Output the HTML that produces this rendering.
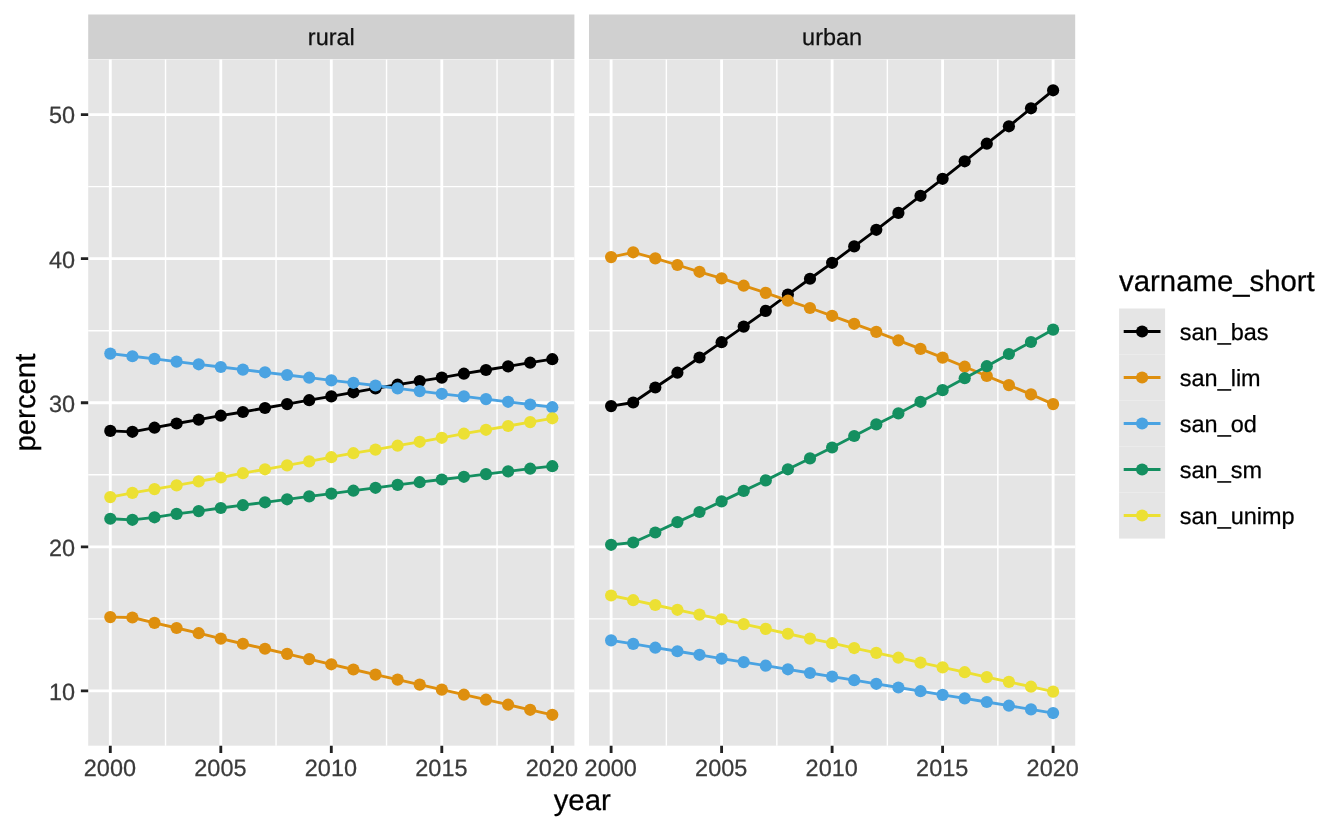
<!DOCTYPE html>
<html lang="en"><head><meta charset="utf-8"><title>sanitation by residence</title>
<style>html,body{margin:0;padding:0;background:#fff}body{width:1344px;height:830px;overflow:hidden}svg{display:block}text{stroke-width:0.25px;text-rendering:geometricPrecision;font-family:"Liberation Sans",Arial,Helvetica,sans-serif}</style></head><body>
<svg width="1344" height="830" viewBox="0 0 1344 830">
<rect x="0" y="0" width="1344" height="830" fill="#ffffff"/>
<g id="rural">
<rect x="88.2" y="14.5" width="486.20" height="44.50" fill="#D0D0D0"/>
<rect x="88.2" y="59.4" width="486.20" height="686.30" fill="#E5E5E5"/>
<path d="M88.2 618.86H574.4M88.2 474.77H574.4M88.2 330.68H574.4M88.2 186.59H574.4M165.55 59.4V745.7M276.05 59.4V745.7M386.55 59.4V745.7M497.05 59.4V745.7" stroke="#fff" stroke-width="1.42" fill="none"/>
<path d="M88.2 690.90H574.4M88.2 546.81H574.4M88.2 402.73H574.4M88.2 258.64H574.4M88.2 114.55H574.4M110.30 59.4V745.7M220.80 59.4V745.7M331.30 59.4V745.7M441.80 59.4V745.7M552.30 59.4V745.7" stroke="#fff" stroke-width="2.84" fill="none"/>
<polyline points="110.30,430.90 132.40,431.80 154.50,427.70 176.60,423.50 198.70,419.60 220.80,415.70 242.90,412.00 265.00,408.00 287.10,404.10 309.20,400.20 331.30,396.40 353.40,392.30 375.50,388.40 397.60,384.70 419.70,381.10 441.80,377.60 463.90,373.70 486.00,370.00 508.10,366.40 530.20,362.70 552.30,359.20" fill="none" stroke="#000000" stroke-width="2.84" stroke-linejoin="round" stroke-linecap="butt"/>
<polyline points="110.30,617.10 132.40,617.50 154.50,622.90 176.60,628.00 198.70,633.20 220.80,638.60 242.90,643.75 265.00,648.75 287.10,653.90 309.20,659.10 331.30,664.30 353.40,669.50 375.50,674.60 397.60,679.60 419.70,684.60 441.80,689.60 463.90,694.70 486.00,699.70 508.10,704.70 530.20,709.80 552.30,714.80" fill="none" stroke="#DE8F0E" stroke-width="2.84" stroke-linejoin="round" stroke-linecap="butt"/>
<polyline points="110.30,353.60 132.40,356.25 154.50,358.90 176.60,361.60 198.70,364.30 220.80,367.00 242.90,369.60 265.00,372.30 287.10,375.00 309.20,377.70 331.30,380.35 353.40,382.80 375.50,385.50 397.60,388.40 419.70,391.10 441.80,393.80 463.90,396.40 486.00,399.10 508.10,401.80 530.20,404.50 552.30,407.20" fill="none" stroke="#4AA3E2" stroke-width="2.84" stroke-linejoin="round" stroke-linecap="butt"/>
<polyline points="110.30,518.75 132.40,519.80 154.50,517.30 176.60,513.90 198.70,511.10 220.80,508.00 242.90,505.20 265.00,502.30 287.10,499.30 309.20,496.40 331.30,493.60 353.40,490.70 375.50,487.80 397.60,484.90 419.70,482.20 441.80,479.50 463.90,476.80 486.00,474.10 508.10,471.40 530.20,468.70 552.30,466.20" fill="none" stroke="#148F60" stroke-width="2.84" stroke-linejoin="round" stroke-linecap="butt"/>
<polyline points="110.30,497.10 132.40,492.90 154.50,489.10 176.60,485.40 198.70,481.40 220.80,477.50 242.90,473.20 265.00,469.30 287.10,465.40 309.20,461.40 331.30,457.20 353.40,453.20 375.50,449.60 397.60,445.70 419.70,441.80 441.80,437.80 463.90,433.70 486.00,429.80 508.10,426.00 530.20,422.10 552.30,418.30" fill="none" stroke="#ECE033" stroke-width="2.84" stroke-linejoin="round" stroke-linecap="butt"/>
<g fill="#000000"><circle cx="110.30" cy="430.90" r="6.1"/><circle cx="132.40" cy="431.80" r="6.1"/><circle cx="154.50" cy="427.70" r="6.1"/><circle cx="176.60" cy="423.50" r="6.1"/><circle cx="198.70" cy="419.60" r="6.1"/><circle cx="220.80" cy="415.70" r="6.1"/><circle cx="242.90" cy="412.00" r="6.1"/><circle cx="265.00" cy="408.00" r="6.1"/><circle cx="287.10" cy="404.10" r="6.1"/><circle cx="309.20" cy="400.20" r="6.1"/><circle cx="331.30" cy="396.40" r="6.1"/><circle cx="353.40" cy="392.30" r="6.1"/><circle cx="375.50" cy="388.40" r="6.1"/><circle cx="397.60" cy="384.70" r="6.1"/><circle cx="419.70" cy="381.10" r="6.1"/><circle cx="441.80" cy="377.60" r="6.1"/><circle cx="463.90" cy="373.70" r="6.1"/><circle cx="486.00" cy="370.00" r="6.1"/><circle cx="508.10" cy="366.40" r="6.1"/><circle cx="530.20" cy="362.70" r="6.1"/><circle cx="552.30" cy="359.20" r="6.1"/></g>
<g fill="#DE8F0E"><circle cx="110.30" cy="617.10" r="6.1"/><circle cx="132.40" cy="617.50" r="6.1"/><circle cx="154.50" cy="622.90" r="6.1"/><circle cx="176.60" cy="628.00" r="6.1"/><circle cx="198.70" cy="633.20" r="6.1"/><circle cx="220.80" cy="638.60" r="6.1"/><circle cx="242.90" cy="643.75" r="6.1"/><circle cx="265.00" cy="648.75" r="6.1"/><circle cx="287.10" cy="653.90" r="6.1"/><circle cx="309.20" cy="659.10" r="6.1"/><circle cx="331.30" cy="664.30" r="6.1"/><circle cx="353.40" cy="669.50" r="6.1"/><circle cx="375.50" cy="674.60" r="6.1"/><circle cx="397.60" cy="679.60" r="6.1"/><circle cx="419.70" cy="684.60" r="6.1"/><circle cx="441.80" cy="689.60" r="6.1"/><circle cx="463.90" cy="694.70" r="6.1"/><circle cx="486.00" cy="699.70" r="6.1"/><circle cx="508.10" cy="704.70" r="6.1"/><circle cx="530.20" cy="709.80" r="6.1"/><circle cx="552.30" cy="714.80" r="6.1"/></g>
<g fill="#4AA3E2"><circle cx="110.30" cy="353.60" r="6.1"/><circle cx="132.40" cy="356.25" r="6.1"/><circle cx="154.50" cy="358.90" r="6.1"/><circle cx="176.60" cy="361.60" r="6.1"/><circle cx="198.70" cy="364.30" r="6.1"/><circle cx="220.80" cy="367.00" r="6.1"/><circle cx="242.90" cy="369.60" r="6.1"/><circle cx="265.00" cy="372.30" r="6.1"/><circle cx="287.10" cy="375.00" r="6.1"/><circle cx="309.20" cy="377.70" r="6.1"/><circle cx="331.30" cy="380.35" r="6.1"/><circle cx="353.40" cy="382.80" r="6.1"/><circle cx="375.50" cy="385.50" r="6.1"/><circle cx="397.60" cy="388.40" r="6.1"/><circle cx="419.70" cy="391.10" r="6.1"/><circle cx="441.80" cy="393.80" r="6.1"/><circle cx="463.90" cy="396.40" r="6.1"/><circle cx="486.00" cy="399.10" r="6.1"/><circle cx="508.10" cy="401.80" r="6.1"/><circle cx="530.20" cy="404.50" r="6.1"/><circle cx="552.30" cy="407.20" r="6.1"/></g>
<g fill="#148F60"><circle cx="110.30" cy="518.75" r="6.1"/><circle cx="132.40" cy="519.80" r="6.1"/><circle cx="154.50" cy="517.30" r="6.1"/><circle cx="176.60" cy="513.90" r="6.1"/><circle cx="198.70" cy="511.10" r="6.1"/><circle cx="220.80" cy="508.00" r="6.1"/><circle cx="242.90" cy="505.20" r="6.1"/><circle cx="265.00" cy="502.30" r="6.1"/><circle cx="287.10" cy="499.30" r="6.1"/><circle cx="309.20" cy="496.40" r="6.1"/><circle cx="331.30" cy="493.60" r="6.1"/><circle cx="353.40" cy="490.70" r="6.1"/><circle cx="375.50" cy="487.80" r="6.1"/><circle cx="397.60" cy="484.90" r="6.1"/><circle cx="419.70" cy="482.20" r="6.1"/><circle cx="441.80" cy="479.50" r="6.1"/><circle cx="463.90" cy="476.80" r="6.1"/><circle cx="486.00" cy="474.10" r="6.1"/><circle cx="508.10" cy="471.40" r="6.1"/><circle cx="530.20" cy="468.70" r="6.1"/><circle cx="552.30" cy="466.20" r="6.1"/></g>
<g fill="#ECE033"><circle cx="110.30" cy="497.10" r="6.1"/><circle cx="132.40" cy="492.90" r="6.1"/><circle cx="154.50" cy="489.10" r="6.1"/><circle cx="176.60" cy="485.40" r="6.1"/><circle cx="198.70" cy="481.40" r="6.1"/><circle cx="220.80" cy="477.50" r="6.1"/><circle cx="242.90" cy="473.20" r="6.1"/><circle cx="265.00" cy="469.30" r="6.1"/><circle cx="287.10" cy="465.40" r="6.1"/><circle cx="309.20" cy="461.40" r="6.1"/><circle cx="331.30" cy="457.20" r="6.1"/><circle cx="353.40" cy="453.20" r="6.1"/><circle cx="375.50" cy="449.60" r="6.1"/><circle cx="397.60" cy="445.70" r="6.1"/><circle cx="419.70" cy="441.80" r="6.1"/><circle cx="441.80" cy="437.80" r="6.1"/><circle cx="463.90" cy="433.70" r="6.1"/><circle cx="486.00" cy="429.80" r="6.1"/><circle cx="508.10" cy="426.00" r="6.1"/><circle cx="530.20" cy="422.10" r="6.1"/><circle cx="552.30" cy="418.30" r="6.1"/></g>
<text x="331.30" y="44.8" font-size="23.47" fill="#101010" stroke="#101010" text-anchor="middle">rural</text>
<path d="M110.30 745.7v7.33M220.80 745.7v7.33M331.30 745.7v7.33M441.80 745.7v7.33M552.30 745.7v7.33" stroke="#222" stroke-width="2.84" fill="none"/>
<text x="109.90" y="776.0" font-size="23.47" fill="#3A3A3A" stroke="#3A3A3A" text-anchor="middle">2000</text>
<text x="220.40" y="776.0" font-size="23.47" fill="#3A3A3A" stroke="#3A3A3A" text-anchor="middle">2005</text>
<text x="330.90" y="776.0" font-size="23.47" fill="#3A3A3A" stroke="#3A3A3A" text-anchor="middle">2010</text>
<text x="441.40" y="776.0" font-size="23.47" fill="#3A3A3A" stroke="#3A3A3A" text-anchor="middle">2015</text>
<text x="551.90" y="776.0" font-size="23.47" fill="#3A3A3A" stroke="#3A3A3A" text-anchor="middle">2020</text>
</g>
<g id="urban">
<rect x="589.0" y="14.5" width="486.20" height="44.50" fill="#D0D0D0"/>
<rect x="589.0" y="59.4" width="486.20" height="686.30" fill="#E5E5E5"/>
<path d="M589.0 618.86H1075.2M589.0 474.77H1075.2M589.0 330.68H1075.2M589.0 186.59H1075.2M666.35 59.4V745.7M776.85 59.4V745.7M887.35 59.4V745.7M997.85 59.4V745.7" stroke="#fff" stroke-width="1.42" fill="none"/>
<path d="M589.0 690.90H1075.2M589.0 546.81H1075.2M589.0 402.73H1075.2M589.0 258.64H1075.2M589.0 114.55H1075.2M611.10 59.4V745.7M721.60 59.4V745.7M832.10 59.4V745.7M942.60 59.4V745.7M1053.10 59.4V745.7" stroke="#fff" stroke-width="2.84" fill="none"/>
<polyline points="611.10,406.10 633.20,402.50 655.30,387.50 677.40,372.70 699.50,357.50 721.60,342.20 743.70,326.60 765.80,310.90 787.90,294.60 810.00,278.75 832.10,262.80 854.20,246.40 876.30,229.80 898.40,212.90 920.50,195.80 942.60,178.80 964.70,161.30 986.80,143.70 1008.90,126.30 1031.00,108.30 1053.10,90.30" fill="none" stroke="#000000" stroke-width="2.84" stroke-linejoin="round" stroke-linecap="butt"/>
<polyline points="611.10,257.10 633.20,252.30 655.30,258.40 677.40,265.00 699.50,271.80 721.60,278.40 743.70,285.70 765.80,292.90 787.90,300.70 810.00,308.00 832.10,315.80 854.20,323.80 876.30,331.90 898.40,340.40 920.50,348.90 942.60,357.65 964.70,366.70 986.80,376.00 1008.90,385.10 1031.00,394.40 1053.10,404.10" fill="none" stroke="#DE8F0E" stroke-width="2.84" stroke-linejoin="round" stroke-linecap="butt"/>
<polyline points="611.10,640.40 633.20,643.90 655.30,647.70 677.40,651.25 699.50,654.80 721.60,658.60 743.70,662.10 765.80,665.70 787.90,669.30 810.00,673.00 832.10,676.55 854.20,680.20 876.30,683.80 898.40,687.50 920.50,691.20 942.60,694.90 964.70,698.35 986.80,702.00 1008.90,705.70 1031.00,709.40 1053.10,713.05" fill="none" stroke="#4AA3E2" stroke-width="2.84" stroke-linejoin="round" stroke-linecap="butt"/>
<polyline points="611.10,544.80 633.20,542.50 655.30,532.50 677.40,522.10 699.50,512.00 721.60,501.40 743.70,490.90 765.80,480.40 787.90,469.30 810.00,458.40 832.10,447.50 854.20,436.00 876.30,424.40 898.40,413.40 920.50,401.80 942.60,390.15 964.70,378.20 986.80,366.20 1008.90,354.00 1031.00,342.00 1053.10,329.60" fill="none" stroke="#148F60" stroke-width="2.84" stroke-linejoin="round" stroke-linecap="butt"/>
<polyline points="611.10,595.50 633.20,600.20 655.30,605.00 677.40,609.80 699.50,614.60 721.60,619.30 743.70,624.10 765.80,628.90 787.90,633.75 810.00,638.60 832.10,643.20 854.20,648.05 876.30,652.90 898.40,657.70 920.50,662.60 942.60,667.40 964.70,672.20 986.80,677.10 1008.90,681.90 1031.00,686.70 1053.10,691.60" fill="none" stroke="#ECE033" stroke-width="2.84" stroke-linejoin="round" stroke-linecap="butt"/>
<g fill="#000000"><circle cx="611.10" cy="406.10" r="6.1"/><circle cx="633.20" cy="402.50" r="6.1"/><circle cx="655.30" cy="387.50" r="6.1"/><circle cx="677.40" cy="372.70" r="6.1"/><circle cx="699.50" cy="357.50" r="6.1"/><circle cx="721.60" cy="342.20" r="6.1"/><circle cx="743.70" cy="326.60" r="6.1"/><circle cx="765.80" cy="310.90" r="6.1"/><circle cx="787.90" cy="294.60" r="6.1"/><circle cx="810.00" cy="278.75" r="6.1"/><circle cx="832.10" cy="262.80" r="6.1"/><circle cx="854.20" cy="246.40" r="6.1"/><circle cx="876.30" cy="229.80" r="6.1"/><circle cx="898.40" cy="212.90" r="6.1"/><circle cx="920.50" cy="195.80" r="6.1"/><circle cx="942.60" cy="178.80" r="6.1"/><circle cx="964.70" cy="161.30" r="6.1"/><circle cx="986.80" cy="143.70" r="6.1"/><circle cx="1008.90" cy="126.30" r="6.1"/><circle cx="1031.00" cy="108.30" r="6.1"/><circle cx="1053.10" cy="90.30" r="6.1"/></g>
<g fill="#DE8F0E"><circle cx="611.10" cy="257.10" r="6.1"/><circle cx="633.20" cy="252.30" r="6.1"/><circle cx="655.30" cy="258.40" r="6.1"/><circle cx="677.40" cy="265.00" r="6.1"/><circle cx="699.50" cy="271.80" r="6.1"/><circle cx="721.60" cy="278.40" r="6.1"/><circle cx="743.70" cy="285.70" r="6.1"/><circle cx="765.80" cy="292.90" r="6.1"/><circle cx="787.90" cy="300.70" r="6.1"/><circle cx="810.00" cy="308.00" r="6.1"/><circle cx="832.10" cy="315.80" r="6.1"/><circle cx="854.20" cy="323.80" r="6.1"/><circle cx="876.30" cy="331.90" r="6.1"/><circle cx="898.40" cy="340.40" r="6.1"/><circle cx="920.50" cy="348.90" r="6.1"/><circle cx="942.60" cy="357.65" r="6.1"/><circle cx="964.70" cy="366.70" r="6.1"/><circle cx="986.80" cy="376.00" r="6.1"/><circle cx="1008.90" cy="385.10" r="6.1"/><circle cx="1031.00" cy="394.40" r="6.1"/><circle cx="1053.10" cy="404.10" r="6.1"/></g>
<g fill="#4AA3E2"><circle cx="611.10" cy="640.40" r="6.1"/><circle cx="633.20" cy="643.90" r="6.1"/><circle cx="655.30" cy="647.70" r="6.1"/><circle cx="677.40" cy="651.25" r="6.1"/><circle cx="699.50" cy="654.80" r="6.1"/><circle cx="721.60" cy="658.60" r="6.1"/><circle cx="743.70" cy="662.10" r="6.1"/><circle cx="765.80" cy="665.70" r="6.1"/><circle cx="787.90" cy="669.30" r="6.1"/><circle cx="810.00" cy="673.00" r="6.1"/><circle cx="832.10" cy="676.55" r="6.1"/><circle cx="854.20" cy="680.20" r="6.1"/><circle cx="876.30" cy="683.80" r="6.1"/><circle cx="898.40" cy="687.50" r="6.1"/><circle cx="920.50" cy="691.20" r="6.1"/><circle cx="942.60" cy="694.90" r="6.1"/><circle cx="964.70" cy="698.35" r="6.1"/><circle cx="986.80" cy="702.00" r="6.1"/><circle cx="1008.90" cy="705.70" r="6.1"/><circle cx="1031.00" cy="709.40" r="6.1"/><circle cx="1053.10" cy="713.05" r="6.1"/></g>
<g fill="#148F60"><circle cx="611.10" cy="544.80" r="6.1"/><circle cx="633.20" cy="542.50" r="6.1"/><circle cx="655.30" cy="532.50" r="6.1"/><circle cx="677.40" cy="522.10" r="6.1"/><circle cx="699.50" cy="512.00" r="6.1"/><circle cx="721.60" cy="501.40" r="6.1"/><circle cx="743.70" cy="490.90" r="6.1"/><circle cx="765.80" cy="480.40" r="6.1"/><circle cx="787.90" cy="469.30" r="6.1"/><circle cx="810.00" cy="458.40" r="6.1"/><circle cx="832.10" cy="447.50" r="6.1"/><circle cx="854.20" cy="436.00" r="6.1"/><circle cx="876.30" cy="424.40" r="6.1"/><circle cx="898.40" cy="413.40" r="6.1"/><circle cx="920.50" cy="401.80" r="6.1"/><circle cx="942.60" cy="390.15" r="6.1"/><circle cx="964.70" cy="378.20" r="6.1"/><circle cx="986.80" cy="366.20" r="6.1"/><circle cx="1008.90" cy="354.00" r="6.1"/><circle cx="1031.00" cy="342.00" r="6.1"/><circle cx="1053.10" cy="329.60" r="6.1"/></g>
<g fill="#ECE033"><circle cx="611.10" cy="595.50" r="6.1"/><circle cx="633.20" cy="600.20" r="6.1"/><circle cx="655.30" cy="605.00" r="6.1"/><circle cx="677.40" cy="609.80" r="6.1"/><circle cx="699.50" cy="614.60" r="6.1"/><circle cx="721.60" cy="619.30" r="6.1"/><circle cx="743.70" cy="624.10" r="6.1"/><circle cx="765.80" cy="628.90" r="6.1"/><circle cx="787.90" cy="633.75" r="6.1"/><circle cx="810.00" cy="638.60" r="6.1"/><circle cx="832.10" cy="643.20" r="6.1"/><circle cx="854.20" cy="648.05" r="6.1"/><circle cx="876.30" cy="652.90" r="6.1"/><circle cx="898.40" cy="657.70" r="6.1"/><circle cx="920.50" cy="662.60" r="6.1"/><circle cx="942.60" cy="667.40" r="6.1"/><circle cx="964.70" cy="672.20" r="6.1"/><circle cx="986.80" cy="677.10" r="6.1"/><circle cx="1008.90" cy="681.90" r="6.1"/><circle cx="1031.00" cy="686.70" r="6.1"/><circle cx="1053.10" cy="691.60" r="6.1"/></g>
<text x="832.10" y="44.8" font-size="23.47" fill="#101010" stroke="#101010" text-anchor="middle">urban</text>
<path d="M611.10 745.7v7.33M721.60 745.7v7.33M832.10 745.7v7.33M942.60 745.7v7.33M1053.10 745.7v7.33" stroke="#222" stroke-width="2.84" fill="none"/>
<text x="610.70" y="776.0" font-size="23.47" fill="#3A3A3A" stroke="#3A3A3A" text-anchor="middle">2000</text>
<text x="721.20" y="776.0" font-size="23.47" fill="#3A3A3A" stroke="#3A3A3A" text-anchor="middle">2005</text>
<text x="831.70" y="776.0" font-size="23.47" fill="#3A3A3A" stroke="#3A3A3A" text-anchor="middle">2010</text>
<text x="942.20" y="776.0" font-size="23.47" fill="#3A3A3A" stroke="#3A3A3A" text-anchor="middle">2015</text>
<text x="1052.70" y="776.0" font-size="23.47" fill="#3A3A3A" stroke="#3A3A3A" text-anchor="middle">2020</text>
</g>
<path d="M88.2 690.90h-7.33M88.2 546.81h-7.33M88.2 402.73h-7.33M88.2 258.64h-7.33M88.2 114.55h-7.33" stroke="#222" stroke-width="2.84" fill="none"/>
<text x="75.0" y="699.80" font-size="23.47" fill="#3A3A3A" stroke="#3A3A3A" text-anchor="end">10</text>
<text x="75.0" y="555.71" font-size="23.47" fill="#3A3A3A" stroke="#3A3A3A" text-anchor="end">20</text>
<text x="75.0" y="411.62" font-size="23.47" fill="#3A3A3A" stroke="#3A3A3A" text-anchor="end">30</text>
<text x="75.0" y="267.54" font-size="23.47" fill="#3A3A3A" stroke="#3A3A3A" text-anchor="end">40</text>
<text x="75.0" y="123.45" font-size="23.47" fill="#3A3A3A" stroke="#3A3A3A" text-anchor="end">50</text>
<text x="582.2" y="809.7" font-size="29.33" fill="#000" stroke="#000" stroke-width="0.35" text-anchor="middle">year</text>
<text transform="translate(35.3 402.6) rotate(-90)" font-size="29.33" fill="#000" stroke="#000" stroke-width="0.35" text-anchor="middle">percent</text>
<text x="1119.1" y="290.9" font-size="29.33" fill="#000" stroke="#000" stroke-width="0.35">varname_short</text>
<rect x="1119.1" y="308.50" width="46.0" height="46.07" fill="#E5E5E5"/>
<path d="M1123.70 331.50h36.8" stroke="#000000" stroke-width="2.84"/>
<circle cx="1142.10" cy="331.50" r="6.1" fill="#000000"/>
<text x="1179.8" y="339.50" font-size="23.47" fill="#000" stroke="#000">san_bas</text>
<rect x="1119.1" y="354.50" width="46.0" height="46.07" fill="#E5E5E5"/>
<path d="M1123.70 377.50h36.8" stroke="#DE8F0E" stroke-width="2.84"/>
<circle cx="1142.10" cy="377.50" r="6.1" fill="#DE8F0E"/>
<text x="1179.8" y="385.50" font-size="23.47" fill="#000" stroke="#000">san_lim</text>
<rect x="1119.1" y="400.50" width="46.0" height="46.07" fill="#E5E5E5"/>
<path d="M1123.70 423.50h36.8" stroke="#4AA3E2" stroke-width="2.84"/>
<circle cx="1142.10" cy="423.50" r="6.1" fill="#4AA3E2"/>
<text x="1179.8" y="431.50" font-size="23.47" fill="#000" stroke="#000">san_od</text>
<rect x="1119.1" y="446.50" width="46.0" height="46.07" fill="#E5E5E5"/>
<path d="M1123.70 469.50h36.8" stroke="#148F60" stroke-width="2.84"/>
<circle cx="1142.10" cy="469.50" r="6.1" fill="#148F60"/>
<text x="1179.8" y="477.50" font-size="23.47" fill="#000" stroke="#000">san_sm</text>
<rect x="1119.1" y="492.50" width="46.0" height="46.07" fill="#E5E5E5"/>
<path d="M1123.70 515.50h36.8" stroke="#ECE033" stroke-width="2.84"/>
<circle cx="1142.10" cy="515.50" r="6.1" fill="#ECE033"/>
<text x="1179.8" y="523.50" font-size="23.47" fill="#000" stroke="#000">san_unimp</text>
</svg></body></html>
